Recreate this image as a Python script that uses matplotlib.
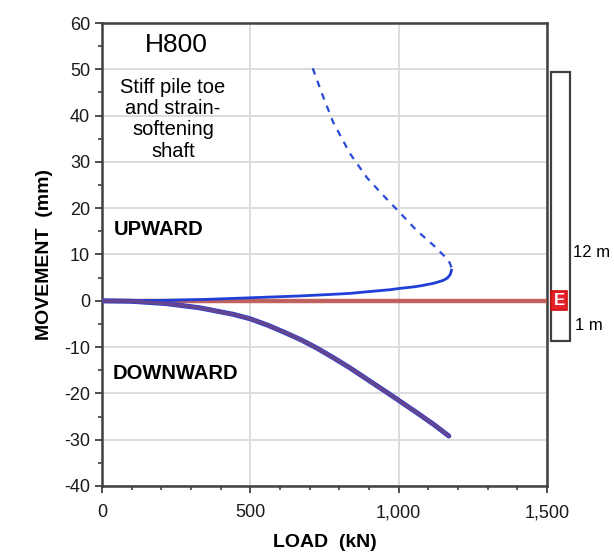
import matplotlib.pyplot as plt
import matplotlib.transforms as mtransforms
from matplotlib.patches import Rectangle
from matplotlib.ticker import MultipleLocator, FuncFormatter

plt.rcParams['font.family'] = ['Liberation Sans', 'DejaVu Sans']
plt.rcParams['axes.unicode_minus'] = False

# upward (head) movement, solid branch up to the peak load
up_load = [0, 200, 350, 500, 667, 779, 836, 893, 972, 1006, 1050, 1080, 1119, 1150, 1164,
           1174, 1178]
up_move = [0, 0.1, 0.3, 0.65, 1.05, 1.4, 1.6, 1.95, 2.4, 2.7, 3.0, 3.3, 3.8, 4.4, 4.9,
           5.7, 6.6]

# post-peak strain-softening branch (dashed)
soft_load = [1178, 1172, 1164, 1119, 1062, 1000, 949, 893, 836, 779, 740, 706]
soft_move = [7.2, 8.2, 9.0, 11.9, 15.1, 19.3, 22.7, 26.6, 31.8, 38.6, 45.0, 51.0]

# downward (toe) movement
down_load = [0, 100, 216, 328, 441, 500, 560, 611, 670, 724, 780, 836, 890, 949, 1000,
             1062, 1120, 1169]
down_move = [0, -0.1, -0.6, -1.5, -2.9, -3.9, -5.3, -6.7, -8.4, -10.2, -12.3, -14.5,
             -16.8, -19.3, -21.5, -24.2, -26.8, -29.2]

zero_load = [0, 1500]
zero_move = [0, 0]

fig = plt.figure(figsize=(6.14, 5.52), dpi=100)
ax = fig.add_axes([102 / 614, 66 / 552, 445 / 614, 463 / 552])

ax.set_xlim(0, 1500)
ax.set_ylim(-40, 60)
ax.xaxis.set_major_locator(MultipleLocator(500))
ax.xaxis.set_minor_locator(MultipleLocator(100))
ax.yaxis.set_major_locator(MultipleLocator(10))
ax.yaxis.set_minor_locator(MultipleLocator(5))
ax.xaxis.set_major_formatter(FuncFormatter(lambda v, p: f'{int(v):,}'))
ax.grid(True, which='major', color='#dcdcdc', lw=1.4)
ax.set_axisbelow(True)
ax.tick_params(which='both', direction='out', colors='#404040', labelcolor='#1a1a1a',
               labelsize=13)
ax.tick_params(which='major', length=5, width=1.3)
ax.tick_params(which='minor', length=3, width=1.2)
ax.tick_params(axis='x', pad=8)
for s in ax.spines.values():
    s.set_color('#404040')
    s.set_linewidth(1.8)

ax.set_xlabel('LOAD  (kN)', fontsize=14, fontweight='bold', labelpad=9)
ax.set_ylabel('MOVEMENT  (mm)', fontsize=14, fontweight='bold', labelpad=8)

ax.plot(zero_load, zero_move, color='#b94a48', lw=3.2, alpha=0.85, zorder=3)
ax.plot(up_load, up_move, color='#1f3fd6', lw=2.0, zorder=4)
ax.plot(soft_load, soft_move, color='#2a4ad8', lw=1.6, ls=(0, (3, 3)), zorder=4)
ax.plot(down_load, down_move, color='#2a3fd0', lw=3.6, zorder=4, solid_capstyle='round',
        solid_joinstyle='round')
ax.plot(down_load, down_move, color='#8a4a6a', lw=2.6, alpha=0.6, zorder=5,
        solid_capstyle='round', solid_joinstyle='round')

ax.text(250, 55.2, 'H800', fontsize=19, ha='center', va='center')
ax.text(239, 39.2, 'Stiff pile toe\nand strain-\nsoftening\nshaft', fontsize=14.5,
        ha='center', va='center', linespacing=1.15)
ax.text(41, 15.3, 'UPWARD', fontsize=14.5, fontweight='bold', va='center')
ax.text(35, -15.8, 'DOWNWARD', fontsize=14.5, fontweight='bold', va='center')

# pile sketch to the right of the plot, with the E-cell marker at the zero line
trans = mtransforms.blended_transform_factory(ax.transAxes, ax.transData)
ax.add_patch(Rectangle((1.008, -8.65), 0.044, 58.15, transform=trans, fill=False,
                       edgecolor='#404040', lw=1.6, clip_on=False))
ax.text(1.027, 0, 'E', transform=trans, ha='center', va='center', color='white',
        fontsize=12, fontweight='bold', clip_on=False,
        bbox=dict(boxstyle='square,pad=0.12', facecolor='#e8202a', edgecolor='#d01010', lw=1.2))
ax.text(1.058, 10.4, '12 m', transform=trans, fontsize=12, va='center', clip_on=False)
ax.text(1.063, -5.4, '1 m', transform=trans, fontsize=12, va='center', clip_on=False)

fig.savefig('out.png', dpi=100)
